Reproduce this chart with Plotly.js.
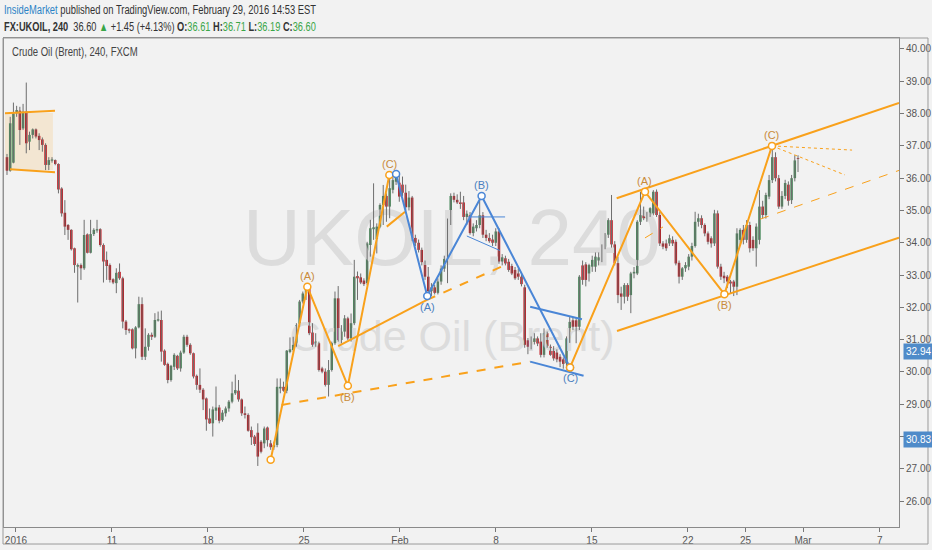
<!DOCTYPE html>
<html><head><meta charset="utf-8">
<script src="https://cdn.plot.ly/plotly-3.0.1.min.js"></script>
<style>
html,body{margin:0;padding:0;background:#f2f2f2;}
#wrap{position:relative;width:932px;height:550px;}
#chart{width:932px;height:550px;}
.hdr{position:absolute;white-space:nowrap;font-family:"Liberation Sans",Arial,sans-serif;transform-origin:0 50%;line-height:14px;}
</style>
</head><body><div id="wrap"><div id="chart"></div>
<div class="hdr" id="h1" style="left:4px;top:3px;font-size:12.5px;color:#333;"><span style="color:#2a83c6">InsideMarket</span> published on TradingView.com, February 29, 2016 14:53 EST</div>
<div class="hdr" id="h2" style="left:4px;top:20px;font-size:12.5px;color:#333;"><b>FX:UKOIL, 240</b>&nbsp; 36.60 <span style="color:#3aa648">▲</span> +1.45 (+4.13%) <b>O:</b><span style="color:#3aa648">36.61</span> <b>H:</b><span style="color:#3aa648">36.71</span> <b>L:</b><span style="color:#3aa648">36.19</span> <b>C:</b><span style="color:#3aa648">36.60</span></div>
<div class="hdr" id="h3" style="left:12px;top:45px;font-size:12.5px;color:#444;">Crude Oil (Brent), 240, FXCM</div>
</div>
<script>
// ---- candle data (240-minute bars, FX:UKOIL) ----
const opens = [
36.65,36.23,36.48,38.01,38.09,37.54,38.06,37.13,37.34,37.51,
37.31,37.20,37.03,36.41,36.54,36.56,36.44,35.68,34.93,34.55,
34.40,33.83,33.26,33.31,33.21,34.26,33.69,34.27,34.38,34.42,
33.93,33.47,33.31,32.87,32.75,33.10,32.90,31.56,31.32,31.32,
30.73,31.38,32.10,30.47,30.78,31.15,31.09,31.59,31.61,30.66,
30.25,29.75,30.16,30.50,30.11,30.60,31.09,30.84,30.58,29.88,
29.60,29.45,29.18,28.56,28.41,28.80,28.90,28.51,28.72,28.87,
29.08,29.34,29.42,29.15,28.72,28.67,28.20,28.00,28.12,27.84,
27.79,28.28,27.79,27.67,27.74,29.49,29.54,29.42,30.62,30.68,
30.84,31.45,32.18,32.43,32.64,31.22,30.84,30.89,30.11,30.01,
29.60,30.06,30.89,32.28,30.99,31.25,31.66,31.04,31.51,32.97,
32.93,32.83,32.75,33.93,34.42,34.12,34.50,35.17,35.45,35.12,
35.64,35.89,35.86,35.80,35.55,35.10,35.40,34.15,34.00,33.78,
33.40,32.95,32.50,32.62,32.45,32.80,33.20,33.47,34.65,35.45,
35.33,35.25,35.25,34.80,34.85,34.30,34.45,34.55,34.85,34.25,
34.15,34.10,34.00,34.35,33.42,33.52,33.41,33.28,33.16,33.05,
32.95,32.62,30.98,30.85,30.93,31.04,30.94,30.53,31.20,30.78,
30.68,30.60,30.47,30.39,30.27,31.04,31.60,31.60,31.40,33.30,
33.33,33.05,33.26,33.26,33.45,33.47,33.88,34.25,34.70,33.95,
33.37,32.43,32.33,32.69,32.38,33.05,33.05,34.65,34.91,34.76,
34.86,34.91,35.58,34.86,33.98,33.98,33.98,34.09,34.03,33.38,
32.95,33.21,33.26,33.57,33.90,34.65,34.76,34.55,34.29,34.14,
33.98,34.91,33.26,32.98,32.95,32.80,32.80,32.64,34.09,34.40,
34.09,34.55,34.09,33.83,34.09,35.12,34.86,35.43,35.94,36.65,
36.00,35.12,35.45,35.80,35.32,36.00,36.61];
const highs = [
36.75,37.90,38.34,38.24,38.21,38.30,38.96,37.44,37.54,37.54,
37.39,37.26,37.08,36.65,36.65,36.58,36.46,35.72,35.32,34.58,
34.42,33.85,33.36,33.36,34.71,34.29,34.71,34.45,34.71,34.45,
33.98,33.73,33.36,32.90,33.21,33.36,32.95,31.61,31.35,31.35,
31.42,32.33,32.31,31.35,31.20,31.22,31.82,31.87,31.90,30.70,
30.29,30.22,30.58,30.53,30.66,31.15,31.15,30.89,30.60,29.92,
30.11,29.50,29.21,28.87,28.93,29.55,28.98,28.82,28.93,29.13,
29.70,29.92,29.75,29.18,28.93,28.72,28.31,28.05,28.41,27.89,
28.31,28.31,27.89,27.84,29.80,29.80,29.70,30.68,31.07,31.09,
31.51,32.23,32.49,32.66,32.69,31.51,31.20,30.94,30.16,30.11,
30.37,30.94,32.49,32.66,31.45,31.76,31.71,31.81,33.47,33.11,
33.05,32.90,34.03,34.71,35.84,34.60,35.22,35.79,35.53,36.07,
36.15,36.25,36.07,36.05,35.80,35.60,35.45,34.25,34.10,33.85,
33.45,33.25,32.75,32.70,32.90,33.30,33.60,34.75,35.53,35.55,
35.50,35.58,35.45,35.00,34.95,34.60,34.70,35.45,34.95,34.40,
34.30,34.25,34.45,34.45,33.65,33.60,33.50,33.35,33.25,33.20,
33.05,32.70,31.05,31.10,31.20,31.10,31.20,31.35,31.25,30.85,
30.80,30.70,30.55,30.45,31.10,31.70,31.70,31.70,33.00,33.45,
33.40,33.35,33.60,33.70,33.70,33.95,34.30,34.76,35.48,34.05,
33.57,32.64,32.75,32.75,33.10,33.25,34.70,35.58,35.12,34.95,
35.10,35.63,35.65,34.95,34.05,34.10,34.25,34.20,34.10,33.45,
33.25,33.40,33.65,34.00,34.96,34.90,34.85,34.60,34.35,34.20,
35.02,35.00,33.35,33.10,33.00,32.85,32.85,34.45,34.45,34.55,
34.70,34.65,34.20,34.60,35.63,35.30,35.55,36.10,36.99,36.80,
36.10,35.60,35.95,35.90,36.10,36.71,36.71];
const lows = [
36.10,36.20,36.46,37.90,37.03,37.49,36.77,36.87,37.23,37.23,
36.87,36.82,36.25,36.25,36.48,36.40,35.53,34.81,34.24,34.09,
33.76,33.07,32.15,32.85,33.16,33.67,33.67,34.21,34.31,33.88,
32.77,32.85,32.77,32.72,32.44,32.85,31.35,31.15,31.20,30.70,
30.42,31.35,30.37,30.37,30.66,30.99,31.05,31.56,30.32,30.19,
29.65,29.70,30.06,30.06,30.01,30.56,30.78,30.53,29.80,29.45,
29.35,28.82,28.18,28.39,28.00,28.51,28.41,28.46,28.62,28.77,
29.03,29.29,29.08,28.64,28.56,28.15,27.74,27.71,27.09,27.48,
27.64,27.69,27.59,27.59,27.67,29.34,29.39,29.34,30.58,30.63,
30.78,31.40,32.12,32.23,31.14,30.78,30.78,30.01,29.96,29.55,
29.24,30.01,30.84,30.94,30.89,31.09,30.99,30.94,31.45,32.23,
32.72,32.66,32.69,33.57,34.09,33.67,34.45,34.55,34.65,34.76,
35.53,35.79,35.27,35.45,35.00,35.00,34.05,33.90,33.70,33.30,
32.85,32.35,32.35,32.40,32.40,32.70,33.10,32.75,34.55,35.25,
35.20,35.05,34.70,34.55,34.25,34.20,34.35,34.45,34.15,34.05,
34.00,33.90,33.90,33.35,33.30,33.30,33.10,33.00,32.85,32.85,
32.65,30.75,30.55,30.70,30.85,30.80,30.45,30.45,30.75,30.50,
30.35,30.30,30.15,30.10,30.14,30.90,31.30,30.89,31.30,32.70,
32.65,32.80,33.10,33.10,33.30,33.40,33.80,34.15,33.85,33.30,
32.13,31.92,32.12,32.20,31.82,32.90,33.00,34.55,34.70,34.65,
34.80,34.85,34.80,33.90,33.80,33.75,33.90,33.90,33.30,32.74,
32.85,33.10,33.15,33.45,33.85,34.50,34.45,34.20,33.95,33.85,
33.90,33.20,32.85,32.75,32.60,32.43,32.35,32.38,33.90,33.95,
34.00,33.70,33.75,33.26,33.95,34.75,34.75,35.35,35.85,35.90,
35.05,35.05,35.35,35.15,35.20,35.90,36.19];
const closes = [
36.23,37.70,38.01,38.11,37.49,38.06,37.08,37.34,37.51,37.29,
37.18,37.03,36.41,36.56,36.58,36.44,35.65,34.91,34.50,34.40,
33.80,33.31,33.31,33.21,34.24,33.69,34.27,34.40,34.42,33.93,
33.42,33.28,32.85,32.77,33.07,32.90,31.56,31.30,31.28,30.73,
31.38,32.10,30.47,30.78,31.15,31.09,31.61,31.63,30.63,30.22,
29.75,30.19,30.53,30.11,30.60,31.09,30.84,30.58,29.86,29.60,
29.45,29.15,28.53,28.41,28.84,28.90,28.49,28.74,28.87,29.08,
29.34,29.44,29.15,28.72,28.67,28.18,27.98,27.77,27.38,27.53,
28.25,27.89,27.67,27.74,29.54,29.54,29.42,30.66,30.70,30.84,
31.45,32.18,32.43,32.64,31.20,30.84,30.94,30.06,30.01,29.60,
30.06,30.89,32.28,30.99,31.25,31.66,31.04,31.51,32.95,32.90,
32.77,32.72,33.98,34.45,34.48,34.50,35.17,35.45,35.12,35.69,
35.94,36.07,35.43,35.55,35.10,35.40,34.15,34.00,33.78,33.40,
32.95,32.50,32.62,32.45,32.80,33.20,33.50,34.65,35.45,35.33,
35.25,35.20,34.80,34.90,34.30,34.50,34.55,34.85,34.25,34.15,
34.05,34.00,34.35,33.42,33.55,33.36,33.16,33.05,32.90,32.95,
32.72,30.84,30.78,30.95,31.04,30.88,30.53,31.20,30.80,30.53,
30.42,30.39,30.32,30.25,31.04,31.55,31.40,31.40,32.95,32.85,
32.85,33.31,33.47,33.57,33.55,33.88,34.25,34.70,33.95,33.37,
32.38,32.33,32.69,32.33,33.05,33.10,34.65,34.91,34.76,34.86,
35.07,35.58,34.86,33.98,33.88,33.83,34.14,33.98,33.36,32.95,
33.21,33.31,33.57,33.90,34.65,34.76,34.55,34.29,34.03,33.98,
34.91,33.26,32.95,32.90,32.80,32.74,32.64,34.29,34.40,34.09,
34.55,33.83,33.83,34.50,35.12,34.86,35.48,35.94,36.65,36.00,
35.12,35.45,35.85,35.30,36.00,36.55,36.60];

// ---- axes ----
const tickDays   = [0, 5, 10, 15, 20, 25, 30, 35, 38, 41, 45];   // trading days after 2016 open
const tickLabels = ['2016','11','18','25','Feb','8','15','22','25','Mar','7'];
const priceTicks = [26,27,28,29,30,31,32,33,34,35,36,37,38,39,40];
const hiddenPriceTicks = [28];   // covered by the 30.83 scale label in the reference
const BARS_PER_DAY = 5.97, FIRST_DAY_BAR = 2.8;

// ---- drawings (bar index, price) ----
const rangeBoxX = [-0.62, 14.3],  rangeBoxY = [36.25, 38.02];
const rangeTopX = [-0.62, 14.93], rangeTopY = [38.01, 38.09];
const rangeBotX = [0.93, 14.93],  rangeBotY = [36.28, 36.18];

const wave1X = [82.0, 93.4, 106.0, 118.9], wave1Y = [27.28, 32.64, 29.57, 36.10];
const wave1Lbl = ['', '(A)', '(B)', '(C)'], wave1Side = [0, 1, -1, 1];
const waveBX = [121.0, 130.7, 147.6, 175.1], waveBY = [36.13, 32.35, 35.45, 30.14];
const waveBLbl = ['', '(A)', '(B)', '(C)'], waveBSide = [0, -1, 1, -1];
const wave2X = [175.1, 198.4, 223.1, 237.9], wave2Y = [30.14, 35.58, 32.41, 37.00];
const wave2Lbl = ['', '(A)', '(B)', '(C)'], wave2Side = [0, 1, -1, 1];

const ORANGE = '#f9a11b', BLUE = '#4a86d6';
const extraLines = [
  {x:[85.4,162.7], y:[28.98,30.32], c:ORANGE, w:2, d:'dash'},
  {x:[103.0,130.6], y:[30.80,32.23], c:ORANGE, w:2, d:'solid'},
  {x:[130.6,154.9], y:[32.23,33.31], c:ORANGE, w:2, d:'dash'},
  {x:[118.1,123.8], y:[34.50,34.96], c:ORANGE, w:2, d:'solid'},
  {x:[143.4,154.9], y:[34.80,34.80], c:BLUE, w:1, d:'solid'},
  {x:[143.0,153.3], y:[34.21,33.76], c:BLUE, w:1, d:'solid'},
  {x:[162.7,178.8], y:[32.02,31.63], c:BLUE, w:2, d:'solid'},
  {x:[162.7,179.3], y:[30.32,29.88], c:BLUE, w:2, d:'solid'},
  {x:[189.6,277.4], y:[35.38,38.33], c:ORANGE, w:2, d:'solid'},
  {x:[189.7,277.4], y:[31.27,34.16], c:ORANGE, w:2, d:'solid'},
  {x:[234.2,277.4], y:[34.73,36.24], c:ORANGE, w:1, d:'dash'},
  {x:[198.4,204.0], y:[34.15,34.49], c:ORANGE, w:1, d:'dash'},
  {x:[237.9,262.8], y:[37.00,36.87], c:ORANGE, w:1, d:'dot'},
  {x:[237.9,260.6], y:[37.00,36.10], c:ORANGE, w:1, d:'dot'}
];

const FONT = '"Liberation Sans",Arial,sans-serif';
const UP = '#4a8a5c', DOWN = '#c0141c', WICK = '#6e6e6e';
const X_RANGE = [-0.93, 277.4], Y_RANGE = [25.20, 40.34];

const idx = opens.map((_, i) => i);
const wickX = [], wickY = [];
idx.forEach(i => { wickX.push(i, i, null); wickY.push(lows[i], highs[i], null); });

const traces = [];
// watermark (behind everything)
traces.push({type:'scatter', mode:'text', x:[X_RANGE[0] + 0.5006*(X_RANGE[1]-X_RANGE[0])],
  y:[Y_RANGE[0] + 0.577*(Y_RANGE[1]-Y_RANGE[0])], text:['UKOIL, 240'],
  textfont:{family:FONT, size:80, color:'#dcdcdc'}, hoverinfo:'skip', cliponaxis:false});
traces.push({type:'scatter', mode:'text', x:[X_RANGE[0] + 0.5006*(X_RANGE[1]-X_RANGE[0])],
  y:[Y_RANGE[0] + 0.382*(Y_RANGE[1]-Y_RANGE[0])], text:['Crude Oil (Brent)'],
  textfont:{family:FONT, size:43, color:'#dcdcdc'}, hoverinfo:'skip', cliponaxis:false});
// wicks
traces.push({type:'scatter', mode:'lines', x:wickX, y:wickY, line:{color:WICK, width:1}, hoverinfo:'skip'});
// bodies
traces.push({type:'bar', x:idx, base:idx.map(i=>Math.min(opens[i],closes[i])),
  y:idx.map(i=>Math.max(Math.abs(closes[i]-opens[i]),0.025)), width:0.78,
  marker:{color:idx.map(i=>closes[i]>=opens[i]?UP:DOWN), line:{width:0}}, hoverinfo:'skip'});
// drawings
const lineTrace = (x,y,c,w,d)=>({type:'scatter', mode:'lines', x, y, line:{color:c, width:w, dash:d}, hoverinfo:'skip'});
traces.push(lineTrace(rangeTopX, rangeTopY, ORANGE, 2, 'solid'));
traces.push(lineTrace(rangeBotX, rangeBotY, ORANGE, 2, 'solid'));
extraLines.forEach(l => traces.push(lineTrace(l.x, l.y, l.c, l.w, l.d)));
const waveTrace = (x,y,c)=>({type:'scatter', mode:'lines+markers', x, y, line:{color:c, width:2},
  marker:{symbol:'circle', size:7, color:'#ffffff', line:{color:c, width:1.5}}, hoverinfo:'skip'});
traces.push(waveTrace(wave1X, wave1Y, ORANGE));
traces.push(waveTrace(waveBX, waveBY, BLUE));
traces.push(waveTrace(wave2X, wave2Y, ORANGE));

const annotations = [];
const addLabels = (xs, ys, lbls, sides, color) => xs.forEach((x,i)=>{
  if (!lbls[i]) return;
  annotations.push({x, y:ys[i], xref:'x', yref:'y', text:lbls[i], showarrow:false,
    yshift: 11*sides[i], font:{family:FONT, size:11, color}});
});
addLabels(wave1X, wave1Y, wave1Lbl, wave1Side, '#c98b3a');
addLabels(waveBX, waveBY, waveBLbl, waveBSide, '#4a7fc0');
addLabels(wave2X, wave2Y, wave2Lbl, wave2Side, '#c98b3a');

// price labels on the scale
[['32.94', 30.62], ['30.83', 27.90]].forEach(([t, y]) => annotations.push({
  xref:'paper', yref:'y', x:1.0045, y, xanchor:'left', yanchor:'middle', showarrow:false, text:t,
  bgcolor:'#4f8bc9', font:{family:FONT, size:10, color:'#ffffff'}, borderpad:2}));

const layout = {
  width:932, height:550, margin:{l:4, r:33, t:38, b:23},
  paper_bgcolor:'#f2f2f2', plot_bgcolor:'#f2f2f2', showlegend:false,
  xaxis:{range:X_RANGE, tickvals:tickDays.map(d=>FIRST_DAY_BAR + d*BARS_PER_DAY), ticktext:tickLabels,
    ticks:'outside', ticklen:4, tickcolor:'#777', showgrid:false, zeroline:false,
    showline:true, mirror:true, linecolor:'#8a8a8a', linewidth:1,
    tickfont:{family:FONT, size:10, color:'#555'}, fixedrange:true},
  yaxis:{range:Y_RANGE, side:'right', tickvals:priceTicks,
    ticktext:priceTicks.map(v=>hiddenPriceTicks.includes(v) ? '' : v.toFixed(2)),
    ticks:'outside', ticklen:4, tickcolor:'#777', showgrid:false, zeroline:false,
    showline:true, mirror:true, linecolor:'#8a8a8a', linewidth:1,
    tickfont:{family:FONT, size:10, color:'#555'}, fixedrange:true},
  shapes:[
    {type:'rect', xref:'x', yref:'y', x0:rangeBoxX[0], x1:rangeBoxX[1], y0:rangeBoxY[0], y1:rangeBoxY[1],
     fillcolor:'rgba(255,152,0,0.13)', line:{width:0}, layer:'below'},
    {type:'rect', xref:'paper', yref:'paper', x0:-0.0011, x1:1.0324, y0:-0.0348, y1:1,
     line:{color:'#9a9a9a', width:1}}
  ],
  annotations
};
Plotly.newPlot('chart', traces, layout, {staticPlot:true, displayModeBar:false});

// condense the header lines to the reference widths
[['h1', 312], ['h2', 312], ['h3', 126]].forEach(([id, w]) => {
  const el = document.getElementById(id);
  el.style.transform = 'scaleX(' + (w / el.offsetWidth) + ')';
});
</script></body></html>
